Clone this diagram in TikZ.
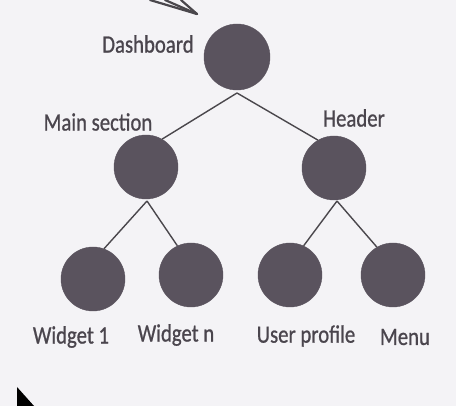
\documentclass[tikz,border=0pt]{standalone}
\usepackage{fontspec}
\setmainfont{Carlito}
\newfontfamily\hand[FakeBold=0.9]{Carlito}
\definecolor{bg}{HTML}{F4F3F6}
\definecolor{nodefill}{HTML}{5A535E}
\definecolor{txt}{HTML}{4A454D}
\definecolor{edge}{HTML}{4A474C}
\begin{document}
\begin{tikzpicture}[x=1pt,y=-1pt,
  dot/.style={circle,fill=nodefill,draw=nodefill,minimum size=64pt,inner sep=0pt},
  lbl/.style={text=txt,font=\hand\fontsize{25}{28}\selectfont,inner sep=0pt},
  conn/.style={draw=edge,line width=1.4pt},
  sketch/.style={draw=edge,line width=2.2pt,line cap=round}]
\fill[bg] (0,0) rectangle (456,406);
\useasboundingbox (0,0) rectangle (456,406);
% nodes
\node[dot,minimum size=66pt] (dash) at (237,57) {};
\node[dot] (main) at (146,167) {};
\node[dot] (head) at (334,168) {};
\node[dot] (w1) at (93,279) {};
\node[dot] (wn) at (191,275) {};
\node[dot] (up) at (290,275) {};
\node[dot] (menu) at (393,275) {};
% labels
\node[lbl] (ldash) at (148,44) {\scalebox{0.83}[1]{Dashboard}};
\node[lbl] (lmain) at (98,122) {\scalebox{0.83}[1]{Main section}};
\node[lbl] (lhead) at (354,118) {\scalebox{0.83}[1]{Header}};
\node[lbl] (lw1) at (71,337) {\scalebox{0.83}[1]{Widget 1}};
\node[lbl] (lwn) at (176,335) {\scalebox{0.83}[1]{Widget n}};
\node[lbl] (lup) at (306,336) {\scalebox{0.83}[1]{User profile}};
\node[lbl] (lmenu) at (405,337) {\scalebox{0.83}[1]{Menu}};
% connectors
\coordinate (dtip) at (237,93);
\coordinate (mtip) at (147,201);
\coordinate (htip) at (337,201);
\draw[conn] (dtip) -- (main.60);
\draw[conn] (dtip) -- (head.120);
\draw[conn] (mtip) -- (w1.70);
\draw[conn] (mtip) -- (wn.115);
\draw[conn] (htip) -- (up.65);
\draw[conn] (htip) -- (menu.120);
% sketchy arrow head at top
\coordinate (atip) at (197,14);
\coordinate (a1) at (150,0);
\coordinate (a2) at (165,0);
\coordinate (a3) at (181,0);
\draw[sketch] (a1) -- (atip);
\draw[sketch] (a2) -- (atip);
\draw[sketch] (a3) -- (atip);
% mouse cursor
\coordinate (c0) at (17,387);
\fill[black] (c0) -- ++(0,19) -- ++(17,0) -- cycle;
\end{tikzpicture}
\end{document}
